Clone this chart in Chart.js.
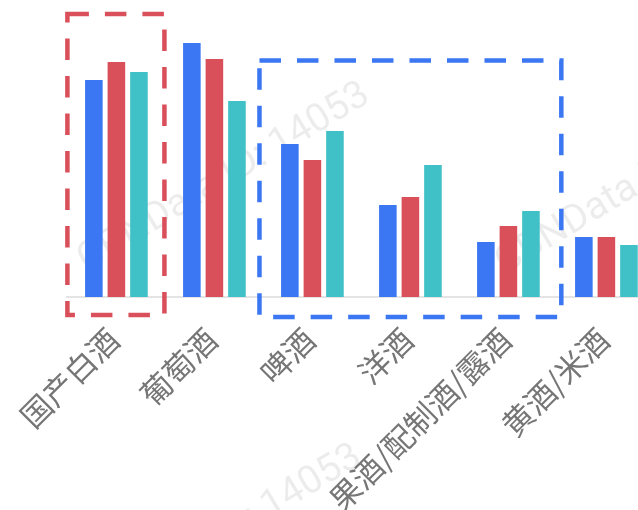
<!DOCTYPE html>
<html>
<head>
<meta charset="utf-8">
<script src="https://cdn.jsdelivr.net/npm/chart.js@4"></script>
<style>
  html, body { margin: 0; padding: 0; background: #fff; overflow: hidden; }
  #wrap { width: 660px; height: 510px; }
</style>
</head>
<body>
<div id="wrap"><canvas id="chart"></canvas></div>
<script>
const categories = ["国产白酒", "葡萄酒", "啤酒", "洋酒", "果酒/配制酒/露酒", "黄酒/米酒"];
const seriesBlue = [217, 254, 153, 92, 55, 60];
const seriesRed = [235, 238, 137, 100, 71, 60];
const seriesTeal = [225, 196, 166, 132, 86, 52];

// highlight boxes: category span and value span
const boxes = [
  { from: -0.5, to: 0.49, top: 283, bottom: -18, color: "#d9505a" },
  { from: 1.46, to: 4.54, top: 236.5, bottom: -20, color: "#3b76f3" },
];

const watermarkText = "CBNData ID: 14053";
const watermarkSpots = [[224, 178], [642, 181], [216, 540]];

const watermark = {
  id: "watermark",
  beforeDatasetsDraw(chart) {
    const ctx = chart.ctx;
    ctx.save();
    ctx.font = "39px Roboto, 'Liberation Sans', sans-serif";
    ctx.fillStyle = "rgba(0,0,0,0.075)";
    ctx.textAlign = "center";
    ctx.textBaseline = "middle";
    watermarkSpots.forEach(([x, y]) => {
      ctx.save();
      ctx.translate(x, y);
      ctx.rotate(-31 * Math.PI / 180);
      ctx.fillText(watermarkText, 0, 0);
      ctx.restore();
    });
    ctx.restore();
  },
};

const dashedBoxes = {
  id: "dashedBoxes",
  afterDatasetsDraw(chart) {
    const { ctx, scales: { x, y } } = chart;
    ctx.save();
    ctx.lineWidth = 4.5;
    ctx.setLineDash([21.5, 16]);
    boxes.forEach((b) => {
      const x1 = x.getPixelForValue(b.from);
      const x2 = x.getPixelForValue(b.to);
      const y1 = y.getPixelForValue(b.top);
      const y2 = y.getPixelForValue(b.bottom);
      ctx.strokeStyle = b.color;
      ctx.strokeRect(x1, y1, x2 - x1, y2 - y1);
    });
    ctx.restore();
  },
};

const ctx = document.getElementById("chart").getContext("2d");
new Chart(ctx, {
  type: "bar",
  data: {
    labels: categories,
    datasets: [
      { data: seriesBlue, backgroundColor: "#3b76f3" },
      { data: seriesRed, backgroundColor: "#d9505a" },
      { data: seriesTeal, backgroundColor: "#3fc1c7" },
    ],
  },
  options: {
    responsive: true,
    maintainAspectRatio: false,
    animation: false,
    layout: { padding: { left: 67.4, right: 4.6, top: 17, bottom: 0 } },
    datasets: {
      bar: { categoryPercentage: 0.69, barPercentage: 0.78 },
    },
    plugins: {
      legend: { display: false },
      tooltip: { enabled: false },
    },
    scales: {
      x: {
        grid: { display: false, drawTicks: false },
        border: { display: true, color: "#e4e4e4", width: 2 },
        ticks: {
          autoSkip: false,
          maxRotation: 45,
          minRotation: 45,
          padding: 24,
          labelOffset: -3,
          color: "#767676",
          font: { size: 31, family: "'Noto Sans CJK SC', sans-serif" },
        },
        afterFit: (scale) => {
          scale.height = 213;
          scale.paddingLeft = 0;
          scale.paddingRight = 0;
        },
      },
      y: {
        display: false,
        min: 0,
        max: 280,
      },
    },
  },
  plugins: [watermark, dashedBoxes],
});
</script>
</body>
</html>
